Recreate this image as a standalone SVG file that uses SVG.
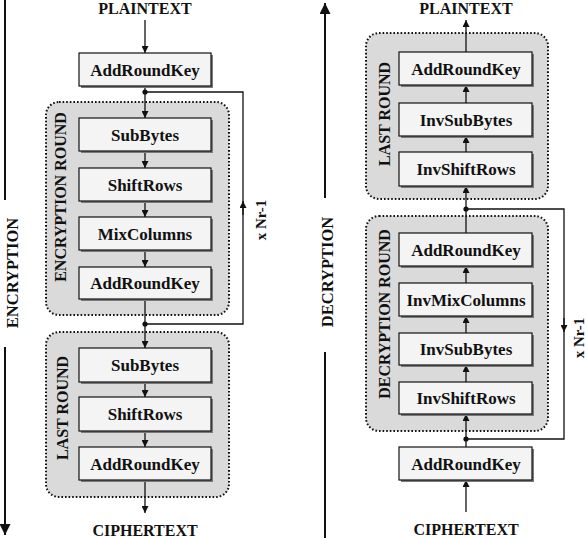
<svg xmlns="http://www.w3.org/2000/svg" width="587" height="538" viewBox="0 0 587 538">
<defs>
<style>
.t{font-family:"Liberation Serif","Times New Roman",serif;font-weight:bold;fill:#111;text-anchor:middle}
.bt{font-size:17px}
.big{font-size:16px}
.cont{fill:#dadada;stroke:#111;stroke-width:2;stroke-dasharray:1.6 2}
.box{fill:#f4f4f4;stroke:#111;stroke-width:1.2}
.sh{fill:#7a7a7a}
.ln{fill:none;stroke:#111;stroke-width:1.3}
.axis{fill:none;stroke:#111;stroke-width:2}
</style>
<marker id="ah" viewBox="0 0 10 10" refX="10" refY="5" markerWidth="7" markerHeight="7" markerUnits="userSpaceOnUse" orient="auto"><path d="M0,0 L10,5 L0,10 z" fill="#111"/></marker>
<marker id="ahb" viewBox="0 0 10 10" refX="10" refY="5" markerWidth="11" markerHeight="11" markerUnits="userSpaceOnUse" orient="auto"><path d="M0,0 L10,5 L0,10 z" fill="#111"/></marker>
</defs>

<!-- axes -->
<g id="enc-axis">
<line class="axis" x1="5" y1="0" x2="5" y2="200"/>
<line class="axis" x1="5" y1="347" x2="5" y2="535" marker-end="url(#ahb)"/>
<text class="t" style="font-size:16.5px" transform="translate(18,273) rotate(-90)">ENCRYPTION</text>
</g>
<g id="dec-axis">
<line class="axis" x1="325" y1="198" x2="325" y2="3" marker-end="url(#ahb)"/>
<line class="axis" x1="325" y1="352" x2="325" y2="538"/>
<text class="t" style="font-size:16.5px" transform="translate(333,272) rotate(-90)">DECRYPTION</text>
</g>

<!-- containers -->
<g id="enc-round">
<rect class="cont" x="46" y="102" width="183" height="213" rx="13"/>
<text class="t big" transform="translate(66,197) rotate(-90)">ENCRYPTION ROUND</text>
</g>
<g id="enc-last">
<rect class="cont" x="46" y="332" width="183" height="165" rx="13"/>
<text class="t big" transform="translate(68,408) rotate(-90)">LAST ROUND</text>
</g>
<g id="dec-last">
<rect class="cont" x="366" y="33" width="182" height="166" rx="13"/>
<text class="t big" transform="translate(390,114) rotate(-90)">LAST ROUND</text>
</g>
<g id="dec-round">
<rect class="cont" x="366" y="216" width="182" height="215" rx="13"/>
<text class="t big" transform="translate(390,314) rotate(-90)">DECRYPTION ROUND</text>
</g>

<!-- connectors -->
<g id="connectors">
<line class="ln" x1="145" y1="20" x2="145" y2="53" marker-end="url(#ah)"/>
<line class="ln" x1="145" y1="86" x2="145" y2="118" marker-end="url(#ah)"/>
<line class="ln" x1="145" y1="151" x2="145" y2="168" marker-end="url(#ah)"/>
<line class="ln" x1="145" y1="201" x2="145" y2="217" marker-end="url(#ah)"/>
<line class="ln" x1="145" y1="250" x2="145" y2="267" marker-end="url(#ah)"/>
<line class="ln" x1="145" y1="299" x2="145" y2="348" marker-end="url(#ah)"/>
<line class="ln" x1="145" y1="382" x2="145" y2="397" marker-end="url(#ah)"/>
<line class="ln" x1="145" y1="431" x2="145" y2="447" marker-end="url(#ah)"/>
<line class="ln" x1="145" y1="480" x2="145" y2="513" marker-end="url(#ah)"/>
<polyline class="ln" points="145,324 243,324 243,92 145,92"/>
<line class="ln" x1="243" y1="215" x2="243" y2="201" marker-end="url(#ah)"/>
<circle cx="145" cy="92" r="2.6" fill="#111"/>
<circle cx="145" cy="324" r="2.6" fill="#111"/>

<line class="ln" x1="466" y1="512" x2="466" y2="480" marker-end="url(#ah)"/>
<line class="ln" x1="466" y1="447" x2="466" y2="414" marker-end="url(#ah)"/>
<line class="ln" x1="466" y1="382" x2="466" y2="365" marker-end="url(#ah)"/>
<line class="ln" x1="466" y1="333" x2="466" y2="316" marker-end="url(#ah)"/>
<line class="ln" x1="466" y1="283" x2="466" y2="266" marker-end="url(#ah)"/>
<line class="ln" x1="466" y1="233" x2="466" y2="186" marker-end="url(#ah)"/>
<line class="ln" x1="466" y1="152" x2="466" y2="136" marker-end="url(#ah)"/>
<line class="ln" x1="466" y1="103" x2="466" y2="85" marker-end="url(#ah)"/>
<line class="ln" x1="466" y1="52" x2="466" y2="20" marker-end="url(#ah)"/>
<polyline class="ln" points="466,209 564,209 564,439 466,439"/>
<line class="ln" x1="564" y1="318" x2="564" y2="332" marker-end="url(#ah)"/>
<circle cx="466" cy="209" r="2.6" fill="#111"/>
<circle cx="466" cy="439" r="2.6" fill="#111"/>
</g>

<text class="t" style="font-size:15px" transform="translate(266,220) rotate(-90)">x Nr-1</text>
<text class="t" style="font-size:15px" transform="translate(584,338) rotate(-90)">x Nr-1</text>

<text class="t big" x="145" y="13.5">PLAINTEXT</text>
<text class="t big" x="145" y="535.5">CIPHERTEXT</text>
<text class="t big" x="466" y="13.5">PLAINTEXT</text>
<text class="t big" x="466" y="535">CIPHERTEXT</text>

<!-- encryption boxes -->
<g id="e-ark0"><rect class="sh" x="81" y="55" width="132" height="33"/><rect class="box" x="79" y="53" width="132" height="33"/><text class="t bt" x="145" y="75.5">AddRoundKey</text></g>
<g id="e-sb"><rect class="sh" x="81" y="120" width="132" height="33"/><rect class="box" x="79" y="118" width="132" height="33"/><text class="t bt" x="145" y="140.5">SubBytes</text></g>
<g id="e-sr"><rect class="sh" x="81" y="170" width="132" height="33"/><rect class="box" x="79" y="168" width="132" height="33"/><text class="t bt" x="145" y="190.5">ShiftRows</text></g>
<g id="e-mc"><rect class="sh" x="81" y="219" width="132" height="33"/><rect class="box" x="79" y="217" width="132" height="33"/><text class="t bt" x="145" y="239.5">MixColumns</text></g>
<g id="e-ark"><rect class="sh" x="81" y="269" width="132" height="32"/><rect class="box" x="79" y="267" width="132" height="32"/><text class="t bt" x="145" y="289">AddRoundKey</text></g>
<g id="e-sb2"><rect class="sh" x="81" y="350" width="132" height="34"/><rect class="box" x="79" y="348" width="132" height="34"/><text class="t bt" x="145" y="371">SubBytes</text></g>
<g id="e-sr2"><rect class="sh" x="81" y="399" width="132" height="34"/><rect class="box" x="79" y="397" width="132" height="34"/><text class="t bt" x="145" y="420">ShiftRows</text></g>
<g id="e-ark2"><rect class="sh" x="81" y="449" width="132" height="33"/><rect class="box" x="79" y="447" width="132" height="33"/><text class="t bt" x="145" y="469.5">AddRoundKey</text></g>

<!-- decryption boxes -->
<g id="d-ark-l"><rect class="sh" x="401" y="54" width="133" height="33"/><rect class="box" x="399" y="52" width="133" height="33"/><text class="t bt" x="466" y="74.5">AddRoundKey</text></g>
<g id="d-isb-l"><rect class="sh" x="401" y="105" width="133" height="33"/><rect class="box" x="399" y="103" width="133" height="33"/><text class="t bt" x="466" y="125.5">InvSubBytes</text></g>
<g id="d-isr-l"><rect class="sh" x="401" y="154" width="133" height="34"/><rect class="box" x="399" y="152" width="133" height="34"/><text class="t bt" x="466" y="175">InvShiftRows</text></g>
<g id="d-ark"><rect class="sh" x="401" y="235" width="133" height="33"/><rect class="box" x="399" y="233" width="133" height="33"/><text class="t bt" x="466" y="255.5">AddRoundKey</text></g>
<g id="d-imc"><rect class="sh" x="401" y="285" width="133" height="33"/><rect class="box" x="399" y="283" width="133" height="33"/><text class="t bt" x="466" y="305.5">InvMixColumns</text></g>
<g id="d-isb"><rect class="sh" x="401" y="335" width="133" height="32"/><rect class="box" x="399" y="333" width="133" height="32"/><text class="t bt" x="466" y="355">InvSubBytes</text></g>
<g id="d-isr"><rect class="sh" x="401" y="384" width="133" height="32"/><rect class="box" x="399" y="382" width="133" height="32"/><text class="t bt" x="466" y="404">InvShiftRows</text></g>
<g id="d-ark0"><rect class="sh" x="401" y="449" width="133" height="33"/><rect class="box" x="399" y="447" width="133" height="33"/><text class="t bt" x="466" y="469.5">AddRoundKey</text></g>
</svg>
